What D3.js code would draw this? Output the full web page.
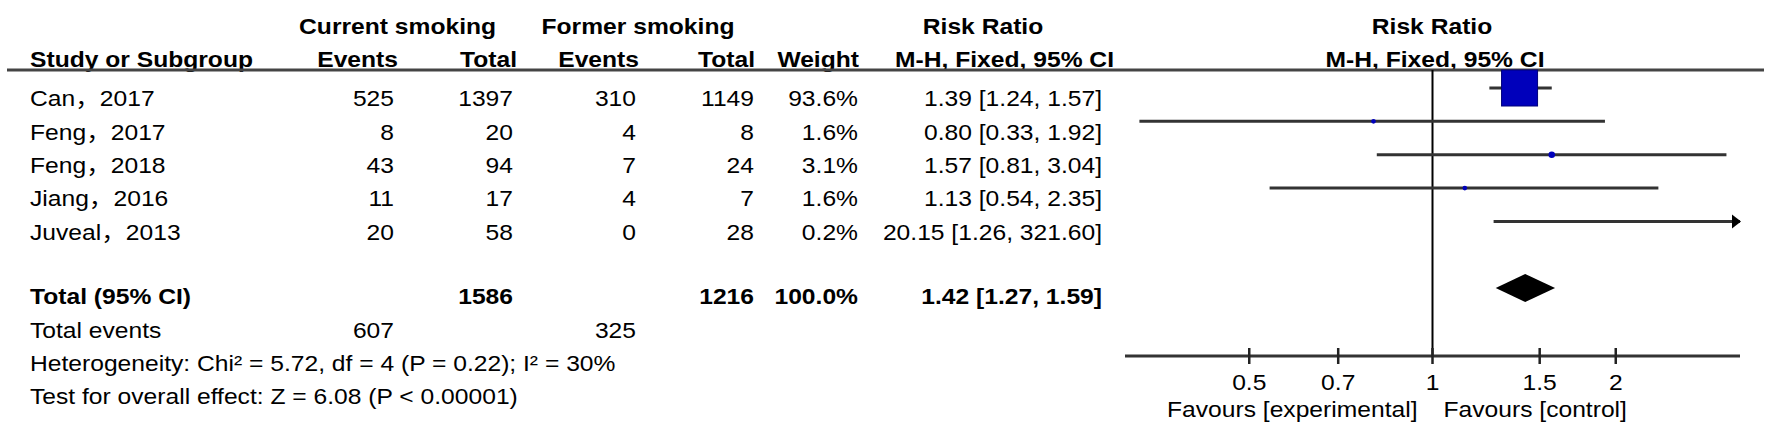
<!DOCTYPE html>
<html>
<head>
<meta charset="utf-8">
<script src="https://cdn.jsdelivr.net/npm/d3@7"></script>
<style>
  html, body { margin: 0; padding: 0; background: #fff; }
  svg { display: block; }
  text { font-family: "Liberation Sans", Arial, "Noto Sans CJK SC", sans-serif; fill: #000; }
</style>
</head>
<body>
<div id="chart"></div>
<script>
// ---------------- data ----------------
const studies    = ["Can，2017", "Feng，2017", "Feng，2018", "Jiang，2016", "Juveal，2013"];
const curEvents  = [525, 8, 43, 11, 20];
const curTotal   = [1397, 20, 94, 17, 58];
const formEvents = [310, 4, 7, 4, 0];
const formTotal  = [1149, 8, 24, 7, 28];
const weights    = [93.6, 1.6, 3.1, 1.6, 0.2];
const rr         = [1.39, 0.80, 1.57, 1.13, 20.15];
const ciLow      = [1.24, 0.33, 0.81, 0.54, 1.26];
const ciHigh     = [1.57, 1.92, 3.04, 2.35, 321.60];

const totalLabel   = "Total (95% CI)";
const totalCur     = 1586;
const totalForm    = 1216;
const totalWeight  = 100.0;
const totalRR      = [1.42, 1.27, 1.59];
const eventsLabel  = "Total events";
const totalEvCur   = 607;
const totalEvForm  = 325;
const heteroText   = "Heterogeneity: Chi² = 5.72, df = 4 (P = 0.22); I² = 30%";
const overallText  = "Test for overall effect: Z = 6.08 (P < 0.00001)";

const headerTop    = ["Current smoking", "Former smoking", "Risk Ratio", "Risk Ratio"];
const headerBottom = ["Study or Subgroup", "Events", "Total", "Events", "Total", "Weight", "M-H, Fixed, 95% CI", "M-H, Fixed, 95% CI"];
const tickValues   = [0.5, 0.7, 1, 1.5, 2];
const favours      = ["Favours [experimental]", "Favours [control]"];
const axisDomain   = [0.3125, 3.2];

// ---------------- layout ----------------
const W = 1772, H = 436;
const FS = 22, SX = 1.12;
const svg = d3.select("#chart").append("svg").attr("width", W).attr("height", H);
svg.append("rect").attr("width", W).attr("height", H).attr("fill", "#fff");

const x = d3.scaleLog().domain(axisDomain).range([1125, 1740]);
const rowY = d3.scaleLinear().domain([0, 1]).range([88, 121.35]); // CI line y for row index
const TXT_OFF = 18.3;
const FOOT_SHIFT = -2;
const fmt2 = d3.format(".2f"), fmt1 = d3.format(".1f");
const rrText = (m, l, h) => `${fmt2(m)} [${fmt2(l)}, ${fmt2(h)}]`;

const col = { study: 30, curEv: 394, curTot: 513, formEv: 636, formTot: 754, weight: 858, rr: 1102 };

function txt(xp, yp, s, anchor = "end", bold = false) {
  svg.append("text")
    .attr("transform", `translate(${xp},${yp}) scale(${SX},1)`)
    .attr("text-anchor", anchor)
    .style("font-size", FS + "px")
    .style("font-weight", bold ? "bold" : "normal")
    .text(s);
}

// headers
const hb1 = 34, hb2 = 67;
txt(397.6, hb1, headerTop[0], "middle", true);
txt(638, hb1, headerTop[1], "middle", true);
txt(983, hb1, headerTop[2], "middle", true);
txt(1432, hb1, headerTop[3], "middle", true);
txt(col.study, hb2, headerBottom[0], "start", true);
txt(398, hb2, headerBottom[1], "end", true);
txt(517, hb2, headerBottom[2], "end", true);
txt(639, hb2, headerBottom[3], "end", true);
txt(755, hb2, headerBottom[4], "end", true);
txt(859, hb2, headerBottom[5], "end", true);
txt(1114, hb2, headerBottom[6], "end", true);
txt(1435, hb2, headerBottom[7], "middle", true);

// header rule
svg.append("line").attr("x1", 7).attr("x2", 1764).attr("y1", 70).attr("y2", 70)
  .attr("stroke", "#444").attr("stroke-width", 3);

// study rows
studies.forEach((s, i) => {
  const yb = rowY(i) + TXT_OFF;
  txt(col.study, yb, s, "start");
  txt(col.curEv, yb, curEvents[i]);
  txt(col.curTot, yb, curTotal[i]);
  txt(col.formEv, yb, formEvents[i]);
  txt(col.formTot, yb, formTotal[i]);
  txt(col.weight, yb, fmt1(weights[i]) + "%");
  txt(col.rr, yb, rrText(rr[i], ciLow[i], ciHigh[i]));
});

// total rows
const yT = rowY(6) + TXT_OFF + FOOT_SHIFT;
txt(col.study, yT, totalLabel, "start", true);
txt(col.curTot, yT, totalCur, "end", true);
txt(col.formTot, yT, totalForm, "end", true);
txt(col.weight, yT, fmt1(totalWeight) + "%", "end", true);
txt(col.rr, yT, rrText(...totalRR), "end", true);
const yE = rowY(7) + TXT_OFF + FOOT_SHIFT;
txt(col.study, yE, eventsLabel, "start");
txt(col.curEv, yE, totalEvCur);
txt(col.formEv, yE, totalEvForm);
txt(col.study, rowY(8) + TXT_OFF + FOOT_SHIFT, heteroText, "start");
txt(col.study, rowY(9) + TXT_OFF + FOOT_SHIFT, overallText, "start");

// ---------------- forest plot ----------------
const axisY = 356;
const [dMin, dMax] = axisDomain;

// null line
svg.append("line").attr("x1", x(1)).attr("x2", x(1)).attr("y1", 70).attr("y2", axisY)
  .attr("stroke", "#000").attr("stroke-width", 2);

const size = d3.scaleSqrt().domain([0, 93.6]).range([0, 36]);
studies.forEach((s, i) => {
  const y = rowY(i);
  const lo = Math.max(ciLow[i], dMin), hi = Math.min(ciHigh[i], dMax);
  svg.append("line").attr("x1", x(lo)).attr("x2", x(hi)).attr("y1", y).attr("y2", y)
    .attr("stroke", "#333").attr("stroke-width", 3);
  if (ciHigh[i] > dMax) {
    const xt = x(dMax) + 1;
    svg.append("path").attr("d", `M${xt},${y} L${xt - 9},${y - 7} L${xt - 9},${y + 7} Z`).attr("fill", "#000");
  }
  if (ciLow[i] < dMin) {
    const xt = x(dMin) - 1;
    svg.append("path").attr("d", `M${xt},${y} L${xt + 9},${y - 7} L${xt + 9},${y + 7} Z`).attr("fill", "#000");
  }
  if (rr[i] >= dMin && rr[i] <= dMax) {
    const sz = Math.max(size(weights[i]), 4);
    svg.append("rect").attr("x", x(rr[i]) - sz / 2).attr("y", y - sz / 2)
      .attr("width", sz).attr("height", sz)
      .attr("rx", sz > 10 ? 0 : sz / 2)
      .attr("fill", "#0000bb").attr("stroke", sz > 10 ? "#00007a" : "none").attr("stroke-width", 1);
  }
});

// diamond
const yD = rowY(6);
svg.append("path")
  .attr("d", `M${x(totalRR[1])},${yD} L${x(totalRR[0])},${yD - 14} L${x(totalRR[2])},${yD} L${x(totalRR[0])},${yD + 14} Z`)
  .attr("fill", "#000");

// axis
const axisG = svg.append("g").attr("transform", `translate(0,${axisY})`);
axisG.append("line").attr("x1", x(dMin)).attr("x2", x(dMax)).attr("stroke", "#333").attr("stroke-width", 3);
axisG.selectAll("line.tick").data(tickValues).enter().append("line").attr("class", "tick")
  .attr("x1", d => x(d)).attr("x2", d => x(d)).attr("y1", -8).attr("y2", 8)
  .attr("stroke", "#222").attr("stroke-width", 2.5);
tickValues.forEach(v => txt(x(v), 390, String(v), "middle"));
txt(x(1) - 15, 417, favours[0], "end");
txt(x(1) + 11, 417, favours[1], "start");
</script>
</body>
</html>
